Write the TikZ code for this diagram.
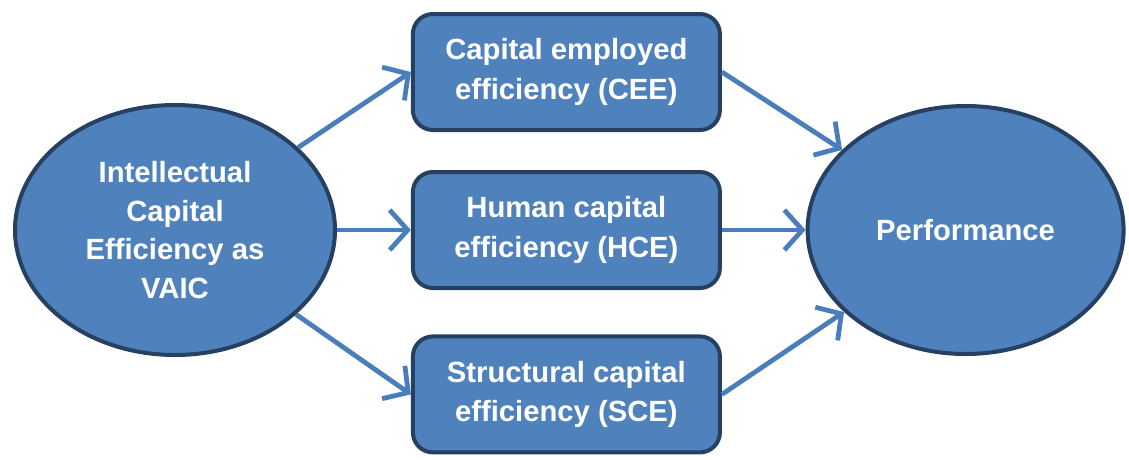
\documentclass[tikz,border=0pt]{standalone}
\usepackage{fontspec}
\setmainfont{Liberation Sans}
\usetikzlibrary{shapes.geometric,arrows.meta}
\definecolor{boxblue}{RGB}{79,129,189}
\definecolor{edgeblue}{RGB}{37,64,97}
\definecolor{arrowblue}{RGB}{74,126,187}
\begin{document}
\begin{tikzpicture}[
  oval/.style={ellipse,draw=edgeblue,fill=boxblue,line width=0.1cm,inner sep=0pt,
    text=white,font=\fontsize{20.8}{27.4}\selectfont\bfseries,align=center},
  block/.style={rectangle,rounded corners=0.5cm,draw=edgeblue,fill=boxblue,line width=0.1cm,
    minimum width=7.675cm,minimum height=2.9cm,inner sep=0pt,
    text=white,font=\fontsize{20.8}{28.4}\selectfont\bfseries,align=center},
  link/.style={draw=arrowblue,line width=0.12cm,-{Straight Barb[length=4.5mm,width=10mm]}}]
\useasboundingbox (0,0) rectangle (28.225,-11.475);
\node[oval,minimum width=8cm,minimum height=6.25cm] (vaic) at (4.375,-5.75)
  {Intellectual\\Capital\\Efficiency as\\VAIC};
\node[block] (cee) at (14.16,-1.8) {Capital employed\\efficiency (CEE)};
\node[block] (hce) at (14.16,-5.75) {Human capital\\efficiency (HCE)};
\node[block] (sce) at (14.16,-9.86) {Structural capital\\efficiency (SCE)};
\node[oval,minimum width=7.9cm,minimum height=6.2cm] (perf) at (24.14,-5.75) {Performance};
\draw[link] (vaic) -- (cee.west);
\draw[link] (vaic) -- (hce);
\draw[link] (vaic) -- (sce.west);
\draw[link] (cee.east) -- (perf);
\draw[link] (hce) -- (perf);
\draw[link] (sce.east) -- (perf);
\end{tikzpicture}
\end{document}
